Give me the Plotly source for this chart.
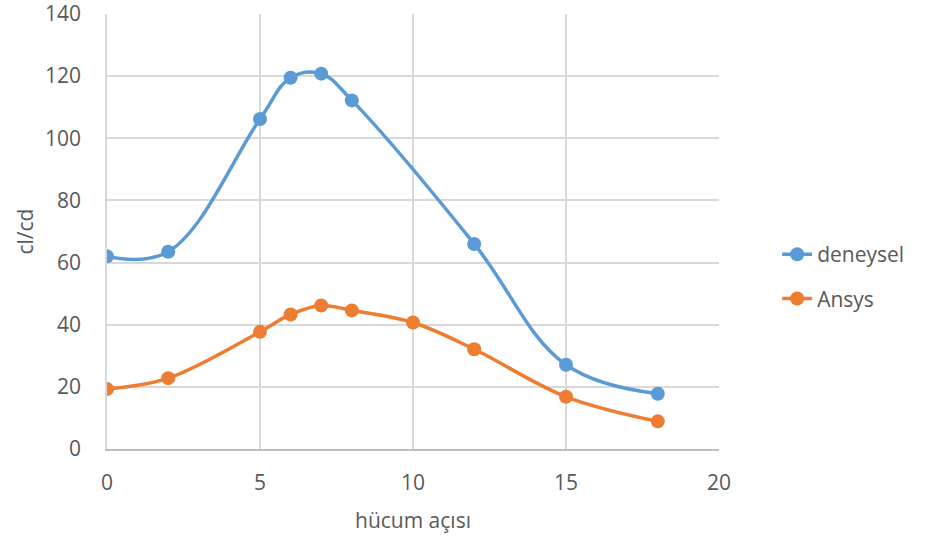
import plotly.graph_objects as go

x_deneysel = [0, 2, 5, 6, 7, 8, 12, 15, 18]
y_deneysel = [62, 63.5, 106.2, 119.5, 120.8, 112.2, 66, 27.1, 17.8]
x_ansys = [0, 2, 5, 6, 7, 8, 10, 12, 15, 18]
y_ansys = [19.3, 22.8, 37.7, 43.3, 46.2, 44.6, 40.7, 32.1, 16.8, 8.9]
x_ticks = [0, 5, 10, 15, 20]
y_ticks = [0, 20, 40, 60, 80, 100, 120, 140]

BLUE = "#5B9BD5"
ORANGE = "#ED7D31"
TXT = "#595959"
GRID = "#D9D9D9"
FONT = "Open Sans"
FS = 21

fig = go.Figure()
fig.add_trace(go.Scatter(
    x=x_deneysel, y=y_deneysel, name="deneysel", legendgroup="a",
    mode="lines+markers", line=dict(color=BLUE, width=3.5, shape="spline", smoothing=1.1),
    marker=dict(color=BLUE, size=14)))
fig.add_trace(go.Scatter(
    x=x_ansys, y=y_ansys, name="Ansys", legendgroup="b",
    mode="lines+markers", line=dict(color=ORANGE, width=3.5, shape="spline", smoothing=1.0),
    marker=dict(color=ORANGE, size=14)))

fig.update_layout(
    width=940, height=542,
    margin=dict(l=107, r=221, t=14, b=93, autoexpand=False),
    paper_bgcolor="white", plot_bgcolor="white",
    font=dict(family=FONT, color=TXT, size=FS),
    legend=dict(x=1.095, xanchor="left", y=0.494, yanchor="top",
                font=dict(size=FS, color=TXT), tracegroupgap=14,
                bgcolor="rgba(0,0,0,0)"),
    xaxis=dict(range=[0, 20], tickvals=x_ticks, showgrid=True, gridcolor=GRID, gridwidth=1.5,
               zeroline=False, showline=True, linecolor="#BFBFBF", linewidth=1.5,
               ticks="", ticklabelstandoff=14, automargin=False, ticklabeloverflow="allow",
               title=dict(text="hücum açısı", font=dict(size=FS, color=TXT), standoff=18),
               tickfont=dict(size=FS, color=TXT)),
    yaxis=dict(range=[0, 140], tickvals=y_ticks, showgrid=True, gridcolor=GRID, gridwidth=1.5,
               zeroline=False, showline=True, linecolor=GRID, linewidth=1.5,
               ticks="", ticklabelstandoff=20, automargin=False, ticklabeloverflow="allow",
               title=dict(text="cl/cd", font=dict(size=FS, color=TXT), standoff=6),
               tickfont=dict(size=FS, color=TXT)),
)

fig.write_html("out.html")
